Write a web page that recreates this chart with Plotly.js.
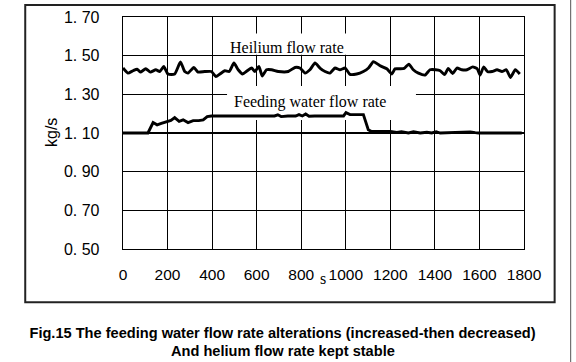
<!DOCTYPE html>
<html>
<head>
<meta charset="utf-8">
<script src="https://cdn.plot.ly/plotly-3.0.1.min.js"></script>
<style>
html,body{margin:0;padding:0;background:#fff;}
#chart{width:576px;height:362px;}
</style>
</head>
<body>
<div id="chart"></div>
<script>
// ---- data ----
const heliumTime = [0,22,45,63,78,102,123,147,165,183,202,232,258,277,292,318,337,367,397,417,435,457,477,498,517,537,558,578,592,610,625,644,667,697,742,772,794,817,839,862,884,907,929,952,974,997,1019,1049,1079,1102,1124,1154,1184,1207,1221,1244,1262,1283,1303,1326,1356,1378,1403,1424,1444,1460,1480,1499,1521,1544,1570,1590,1603,1619,1637,1657,1679,1701,1721,1739,1761,1781];
const heliumFlow = [1.436,1.410,1.422,1.430,1.415,1.432,1.415,1.427,1.418,1.444,1.405,1.405,1.467,1.418,1.410,1.439,1.415,1.418,1.418,1.392,1.405,1.422,1.418,1.462,1.427,1.405,1.422,1.436,1.418,1.444,1.395,1.427,1.427,1.418,1.418,1.439,1.436,1.410,1.427,1.462,1.436,1.418,1.410,1.436,1.427,1.436,1.403,1.405,1.418,1.436,1.469,1.448,1.432,1.405,1.432,1.432,1.434,1.456,1.427,1.410,1.400,1.427,1.427,1.422,1.402,1.434,1.408,1.436,1.427,1.427,1.442,1.432,1.400,1.442,1.417,1.418,1.427,1.418,1.427,1.387,1.427,1.405];

const feedTime = [0,112,135,153,172,195,215,232,252,270,292,315,340,360,378,397,680,695,710,740,775,790,805,820,835,860,990,1001,1019,1079,1101,1116,1200,1229,1250,1281,1304,1334,1364,1386,1406,1424,1469,1499,1559,1581,1596,1790];
const feedFlow = [1.100,1.100,1.154,1.142,1.150,1.160,1.165,1.180,1.160,1.168,1.154,1.164,1.164,1.168,1.185,1.188,1.188,1.194,1.185,1.188,1.188,1.195,1.188,1.198,1.187,1.188,1.188,1.205,1.195,1.195,1.117,1.108,1.108,1.103,1.107,1.100,1.106,1.100,1.104,1.100,1.107,1.100,1.102,1.104,1.106,1.102,1.100,1.100];

const yTickVals = [0.5,0.7,0.9,1.1,1.3,1.5,1.7];
const yTickText = ["0. 50","0. 70","0. 90","1. 10","1. 30","1. 50","1. 70"];
const xTickVals = [0,200,400,600,800,1000,1200,1400,1600,1800];
const xTickText = ["0","200","400","600","800","1000","1200","1400","1600","1800"];

const heliumLabel = "Heilium flow rate";
const feedLabel = "Feeding water flow rate";
const yTitle = "kg/s";
const xTitle = "s";
const titleLine1 = "Fig.15 The feeding water flow rate alterations (increased-then decreased)";
const titleLine2 = "And helium flow rate kept stable";

// ---- chart ----
const sans = "Liberation Sans, Arial, sans-serif";
const serif = "Liberation Serif, Times New Roman, serif";
const titleFont = {family: sans, size: 14.6, color: '#000', weight: 'bold'};

const traces = [
  {x: heliumTime, y: heliumFlow, type: 'scatter', mode: 'lines', name: heliumLabel,
   line: {color: '#000', width: 2.9, shape: 'spline', smoothing: 0.5}},
  {x: feedTime, y: feedFlow, type: 'scatter', mode: 'lines', name: feedLabel,
   line: {color: '#000', width: 2.9}}
];

const layout = {
  width: 576, height: 362,
  margin: {l: 123, r: 52, t: 17, b: 113},
  paper_bgcolor: '#fff', plot_bgcolor: '#fff',
  showlegend: false,
  title: {text: titleLine1, x: 282.5/576, xanchor: 'center', xref: 'container',
          y: 1 - 333.3/362, yanchor: 'middle', yref: 'container', font: titleFont},
  xaxis: {range: [0, 1800], tickvals: xTickVals, ticktext: xTickText,
          showgrid: true, gridcolor: '#000', gridwidth: 1.2, zeroline: false,
          showline: true, mirror: true, linecolor: '#000', linewidth: 1.3,
          ticks: '', ticklabelstandoff: 11,
          tickfont: {family: sans, size: 15.5, color: '#000'}},
  yaxis: {range: [0.5, 1.7], tickvals: yTickVals, ticktext: yTickText,
          showgrid: true, gridcolor: '#000', gridwidth: 1.2, zeroline: false,
          showline: true, mirror: true, linecolor: '#000', linewidth: 1.3,
          ticks: '', ticklabelstandoff: 19,
          tickfont: {family: sans, size: 16, color: '#000'}},
  shapes: [
    // white label boxes (between grid and traces)
    {type: 'rect', xref: 'x', yref: 'y', x0: 462, x1: 1020, y0: 1.505, y1: 1.615,
     fillcolor: '#fff', line: {width: 0}, layer: 'between'},
    {type: 'rect', xref: 'x', yref: 'y', x0: 467, x1: 1315, y0: 1.167, y1: 1.343,
     fillcolor: '#fff', line: {width: 0}, layer: 'between'},
    // outer frame
    {type: 'rect', xref: 'paper', yref: 'paper', x0: -0.2438, x1: 1.0764, y0: -0.230, y1: 1.0518,
     line: {color: '#222', width: 2}, fillcolor: 'rgba(0,0,0,0)', layer: 'above'},
    // thin vertical line at right edge of the picture
    {type: 'line', xref: 'paper', yref: 'paper', x0: 1.1164, x1: 1.1164, y0: -0.49, y1: 1.08,
     line: {color: '#555', width: 1}, layer: 'above'}
  ],
  annotations: [
    {text: heliumLabel, xref: 'x', yref: 'y', x: 738, y: 1.543, showarrow: false,
     xanchor: 'center', yanchor: 'middle', font: {family: serif, size: 16, color: '#000'}},
    {text: feedLabel, xref: 'x', yref: 'y', x: 841, y: 1.259, showarrow: false,
     xanchor: 'center', yanchor: 'middle', font: {family: serif, size: 16, color: '#000'}},
    {text: xTitle, xref: 'x', yref: 'paper', x: 898, y: -0.125, showarrow: false,
     xanchor: 'center', yanchor: 'middle', font: {family: serif, size: 16, color: '#000'}},
    {text: yTitle, xref: 'paper', yref: 'paper', x: (51-123)/401, y: 0.5, textangle: -90, showarrow: false,
     xanchor: 'center', yanchor: 'middle', font: {family: sans, size: 16, color: '#000'}},
    {text: titleLine2, xref: 'paper', yref: 'paper', x: (282.5-123)/401, y: (249-350.7)/232, showarrow: false,
     xanchor: 'center', yanchor: 'middle', font: titleFont}
  ]
};

Plotly.newPlot('chart', traces, layout, {displayModeBar: false, staticPlot: true});
</script>
</body>
</html>
